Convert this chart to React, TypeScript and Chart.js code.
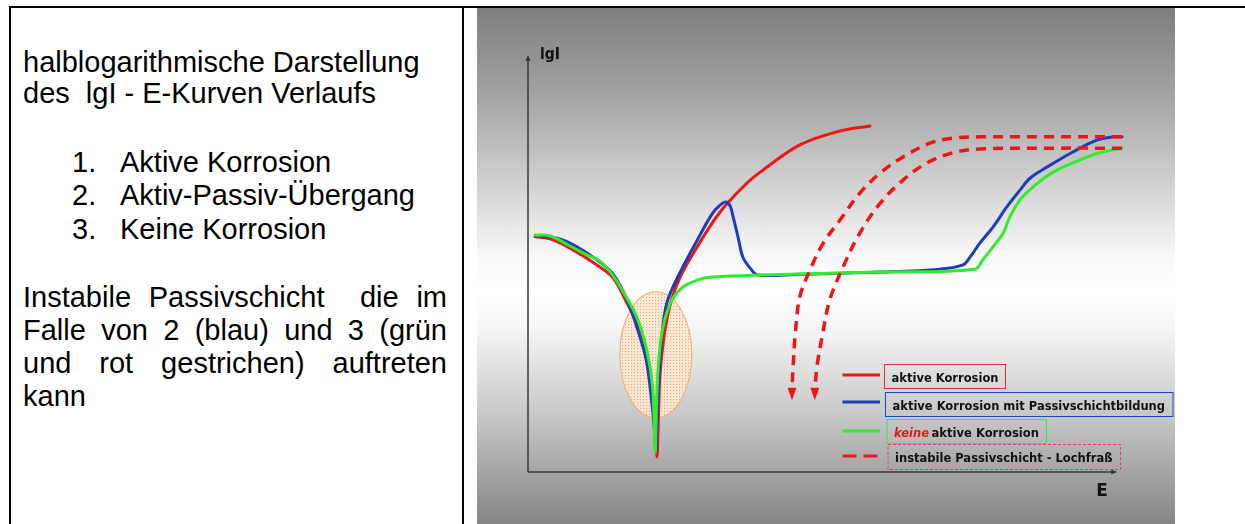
import React, { useEffect, useRef } from "react";
import { Chart, registerables } from "chart.js";

Chart.register(...registerables);

// ---- left text cell ----
const introLines = ["halblogarithmische Darstellung", "des  lgI - E-Kurven Verlaufs"];
const listItems = ["Aktive Korrosion", "Aktiv-Passiv-Übergang", "Keine Korrosion"];
const noteLines = [
  "Instabile Passivschicht  die im",
  "Falle von 2 (blau) und 3 (grün",
  "und rot gestrichen) auftreten",
  "kann",
];

// ---- chart data (E = potential, I = lg current) ----
const seriesLabels = [
  "aktive Korrosion",
  "aktive Korrosion mit Passivschichtbildung",
  "keine aktive Korrosion",
  "instabile Passivschicht - Lochfraß",
];
const axisLabels = ["E", "lgI"];

const aktivE = [1.2, 3.7, 7.0, 11.5, 14.2, 16.5, 18.7, 20.0, 20.8, 21.2, 21.5, 21.7, 22.0, 22.7, 23.7, 25.3, 28.2, 30.8, 32.8, 36.5, 38.7, 45.3, 52.0, 57.0];
const aktivI = [56.0, 55.5, 53.3, 49.3, 46.2, 40.2, 33.8, 26.7, 18.3, 11.2, 3.6, 11.2, 23.1, 32.6, 39.8, 46.2, 53.6, 59.5, 63.3, 68.8, 71.4, 77.9, 81.2, 82.4];

const passivE = [1.2, 3.7, 7.0, 11.5, 14.2, 16.5, 18.3, 19.7, 20.5, 21.0, 21.3, 21.5, 21.7, 22.0, 22.5, 23.3, 25.3, 28.2, 30.8, 32.2, 33.0, 33.7, 34.2, 35.0, 35.8, 37.0, 38.3, 45.3, 58.7, 68.7, 72.5, 73.7, 75.3, 77.5, 79.8, 82.0, 83.7, 86.5, 90.8, 94.8, 97.5, 99.0];
const passivI = [56.2, 56.0, 54.5, 50.5, 47.1, 41.0, 33.8, 26.7, 18.3, 11.2, 4.8, 11.2, 18.3, 26.7, 35.0, 41.0, 47.4, 55.2, 61.7, 63.8, 64.3, 63.3, 60.7, 56.0, 51.2, 48.6, 46.9, 47.1, 47.6, 48.3, 49.3, 51.2, 54.5, 58.3, 63.1, 67.1, 70.0, 72.6, 76.2, 79.0, 79.8, 79.8];

const keineE = [1.2, 3.7, 7.0, 9.8, 12.0, 14.2, 15.7, 18.2, 19.8, 20.7, 21.0, 21.2, 21.3, 21.7, 22.5, 24.0, 25.8, 28.2, 30.8, 38.7, 58.7, 74.5, 75.8, 77.5, 79.2, 80.3, 82.0, 84.2, 87.5, 92.0, 95.3, 99.0];
const keineI = [56.4, 56.2, 53.8, 51.7, 50.2, 46.7, 43.3, 36.7, 29.0, 21.2, 13.1, 4.8, 10.0, 25.0, 34.5, 41.0, 44.0, 45.7, 46.4, 46.9, 47.6, 48.3, 50.5, 53.6, 56.9, 60.7, 64.8, 67.9, 71.4, 74.3, 76.0, 77.1];

const loch1E = [99.0, 87.0, 75.3, 70.8, 67.0, 62.5, 58.7, 55.3, 52.0, 49.2, 47.0, 45.3, 44.5, 44.2, 44.0];
const loch1I = [79.8, 79.8, 79.8, 79.5, 78.3, 75.0, 71.2, 66.4, 60.0, 54.5, 48.1, 41.7, 32.1, 25.5, 19.8];
const loch2E = [99.0, 87.0, 75.3, 70.8, 66.5, 62.5, 58.7, 55.3, 52.5, 50.3, 49.0, 48.2, 47.8];
const loch2I = [77.1, 77.1, 76.9, 76.0, 73.6, 69.5, 64.0, 56.9, 48.8, 41.0, 32.1, 25.5, 19.8];
const lochArrowTipI = 17.1;

// highlighted region (corrosion potential), centre and half-axes in data units
const ellipseCenter = [21.3, 27.9];
const ellipseHalfAxes = [6.0, 15.0];
const axisEnd = [98.2, 99.3];

const RED = "#ee1515";
const BLUE = "#1c3db8";
const GREEN = "#30ec2c";

const pts = (xs: number[], ys: number[]) => xs.map((x, i) => ({ x, y: ys[i] }));

export default function App() {
  const ref = useRef<HTMLCanvasElement>(null);

  useEffect(() => {
    const canvas = ref.current!;
    const pc = document.createElement("canvas");
    pc.width = 3;
    pc.height = 3;
    const p = pc.getContext("2d")!;
    p.fillStyle = "rgba(250,230,208,0.92)";
    p.fillRect(0, 0, 3, 3);
    p.fillStyle = "rgba(222,150,90,0.75)";
    p.fillRect(1, 1, 1, 1);

    const legendRows = [
      { lineY: 367, boxTop: 356, boxH: 24, boxL: 407, boxR: 528, border: "#e03030", dash: [] as number[], textX: 414.5, widths: [107] },
      { lineY: 394, boxTop: 384, boxH: 24, boxL: 408, boxR: 695.5, border: "#2244c4", dash: [] as number[], textX: 415.5, widths: [272.5] },
      { lineY: 423, boxTop: 411, boxH: 24, boxL: 409.5, boxR: 569, border: "#44e044", dash: [] as number[], textX: 417, widths: [35, 107.5] },
      { lineY: 448, boxTop: 436, boxH: 25, boxL: 410.5, boxR: 643, border: "#e04060", dash: [3, 2], textX: 418, widths: [217.5] },
    ];
    const LFONT = "bold 12px 'DejaVu Sans', 'Liberation Sans', sans-serif";
    const LFONT_I = "italic bold 12px 'DejaVu Sans', 'Liberation Sans', sans-serif";

    const fitText = (ctx: CanvasRenderingContext2D, t: string, x: number, y: number, w: number, font: string, color: string) => {
      ctx.save();
      ctx.font = font;
      ctx.fillStyle = color;
      ctx.textBaseline = "alphabetic";
      const nat = ctx.measureText(t).width;
      ctx.translate(x, y);
      ctx.scale(w / nat, 1);
      ctx.fillText(t, 0, 0);
      ctx.restore();
    };

    const decor = {
      id: "decor",
      beforeDatasetsDraw(chart: any) {
        const { ctx, scales } = chart;
        const xs = scales.x, ys = scales.y;
        const cx = xs.getPixelForValue(ellipseCenter[0]);
        const cy = ys.getPixelForValue(ellipseCenter[1]);
        const rx = Math.abs(xs.getPixelForValue(ellipseCenter[0] + ellipseHalfAxes[0]) - cx);
        const ry = Math.abs(ys.getPixelForValue(ellipseCenter[1] + ellipseHalfAxes[1]) - cy);
        ctx.save();
        ctx.beginPath();
        ctx.ellipse(cx, cy, rx, ry, 0, 0, Math.PI * 2);
        ctx.fillStyle = ctx.createPattern(pc, "repeat");
        ctx.fill();
        ctx.strokeStyle = "#eeb47a";
        ctx.lineWidth = 1.2;
        ctx.stroke();

        // axes with arrows
        const x0 = xs.getPixelForValue(0), y0 = ys.getPixelForValue(0);
        const xe = xs.getPixelForValue(axisEnd[0]), ye = ys.getPixelForValue(axisEnd[1]);
        ctx.strokeStyle = "#383838";
        ctx.fillStyle = "#383838";
        ctx.lineWidth = 1.5;
        ctx.beginPath();
        ctx.moveTo(x0, y0);
        ctx.lineTo(x0, ye + 5);
        ctx.moveTo(x0, y0);
        ctx.lineTo(xe - 5, y0);
        ctx.stroke();
        ctx.beginPath();
        ctx.moveTo(x0, ye);
        ctx.lineTo(x0 - 2.6, ye + 6);
        ctx.lineTo(x0 + 2.6, ye + 6);
        ctx.closePath();
        ctx.fill();
        ctx.beginPath();
        ctx.moveTo(xe, y0);
        ctx.lineTo(xe - 6, y0 - 2.6);
        ctx.lineTo(xe - 6, y0 + 2.6);
        ctx.closePath();
        ctx.fill();
        ctx.restore();

        fitText(ctx, axisLabels[1], x0 + 12, ye + 4, 20, "bold 15px 'DejaVu Sans', sans-serif", "#111");
        fitText(ctx, axisLabels[0], xe - 21, y0 + 24, 11.5, "bold 18px 'DejaVu Sans', sans-serif", "#111");
      },
      afterDatasetsDraw(chart: any) {
        const { ctx, scales } = chart;
        const tip = scales.y.getPixelForValue(lochArrowTipI);
        [3, 4].forEach((i) => {
          const meta = chart.getDatasetMeta(i);
          const last = meta.data[meta.data.length - 1];
          ctx.save();
          ctx.fillStyle = RED;
          ctx.beginPath();
          ctx.moveTo(last.x - 4.5, last.y - 1);
          ctx.lineTo(last.x + 4.5, last.y - 1);
          ctx.lineTo(last.x, tip);
          ctx.closePath();
          ctx.fill();
          ctx.restore();
        });
      },
      afterDraw(chart: any) {
        const { ctx } = chart;
        const colors = [RED, BLUE, GREEN, RED];
        legendRows.forEach((r, i) => {
          ctx.save();
          ctx.strokeStyle = colors[i];
          ctx.lineWidth = 3;
          ctx.setLineDash(i === 3 ? [14, 7] : []);
          ctx.beginPath();
          ctx.moveTo(365.5, r.lineY);
          ctx.lineTo(403, r.lineY);
          ctx.stroke();
          ctx.setLineDash(r.dash);
          ctx.strokeStyle = r.border;
          ctx.lineWidth = 1;
          ctx.strokeRect(r.boxL + 0.5, r.boxTop + 0.5, r.boxR - r.boxL, r.boxH);
          ctx.restore();
          const base = r.boxTop + 17.5;
          const label = seriesLabels[i];
          if (label.startsWith("keine ")) {
            fitText(ctx, "keine", r.textX, base, r.widths[0], LFONT_I, RED);
            fitText(ctx, label.slice(6), r.textX + r.widths[0] + 2.5, base, r.widths[1], LFONT, "#111");
          } else {
            fitText(ctx, label, r.textX, base, r.widths[0], LFONT, "#111");
          }
        });
      },
    };

    const common = { pointRadius: 0, fill: false, tension: 0.35, borderCapStyle: "round", borderJoinStyle: "round" };
    const chart = new Chart(canvas, {
      type: "line",
      data: {
        datasets: [
          { ...common, label: seriesLabels[0], data: pts(aktivE, aktivI), borderColor: RED, borderWidth: 3, order: 3 },
          { ...common, label: seriesLabels[1], data: pts(passivE, passivI), borderColor: BLUE, borderWidth: 3, order: 2 },
          { ...common, label: seriesLabels[2], data: pts(keineE, keineI), borderColor: GREEN, borderWidth: 3, order: 1 },
          { ...common, label: seriesLabels[3], data: pts(loch1E, loch1I), borderColor: RED, borderWidth: 3.5, borderDash: [10, 7], borderCapStyle: "butt", order: 0 },
          { ...common, label: seriesLabels[3], data: pts(loch2E, loch2I), borderColor: RED, borderWidth: 3.5, borderDash: [10, 7], borderCapStyle: "butt", order: 0 },
        ],
      } as any,
      options: {
        animation: false,
        responsive: false,
        devicePixelRatio: 1,
        layout: { padding: { left: 51, right: 47, top: 44, bottom: 52 } },
        scales: {
          x: { type: "linear", min: 0, max: 100, display: false },
          y: { type: "linear", min: 0, max: 100, display: false },
        },
        plugins: { legend: { display: false }, tooltip: { enabled: false } },
      } as any,
      plugins: [decor as any],
    });
    return () => chart.destroy();
  }, []);

  const textBase: React.CSSProperties = {
    position: "absolute",
    fontSize: 29,
    lineHeight: "33px",
    color: "#000",
    whiteSpace: "pre",
  };

  return (
    <div
      style={{
        position: "absolute",
        left: 0,
        top: 0,
        width: 1245,
        height: 524,
        overflow: "hidden",
        background: "#fff",
        fontFamily: "'Liberation Sans', Arial, sans-serif",
      }}
    >
      <div style={{ position: "absolute", left: 9, top: 6, width: 1236, height: 2, background: "#000" }} />
      <div style={{ position: "absolute", left: 9, top: 6, width: 2, height: 518, background: "#000" }} />
      <div style={{ position: "absolute", left: 462, top: 6, width: 2, height: 518, background: "#000" }} />

      {introLines.map((t, i) => (
        <div key={"i" + i} style={{ ...textBase, left: 23, top: 45.5 + i * 31 }}>
          {t}
        </div>
      ))}
      {listItems.map((t, i) => (
        <React.Fragment key={"l" + i}>
          <div style={{ ...textBase, left: 72, top: 145.5 + i * 33.5 }}>{i + 1 + "."}</div>
          <div style={{ ...textBase, left: 120, top: 145.5 + i * 33.5 }}>{t}</div>
        </React.Fragment>
      ))}
      {noteLines.map((t, i) => {
        const last = i === noteLines.length - 1;
        return (
          <div
            key={"n" + i}
            style={{
              ...textBase,
              whiteSpace: "pre-wrap",
              left: 23,
              top: 280.5 + i * 33.3,
              width: 424,
              textAlign: last ? "left" : "justify",
              textAlignLast: last ? "left" : "justify",
            }}
          >
            {t}
          </div>
        );
      })}

      <canvas
        ref={ref}
        width={698}
        height={516}
        style={{
          position: "absolute",
          left: 477,
          top: 8,
          width: 698,
          height: 516,
          background:
            "linear-gradient(180deg, #7e7e7e 0%, #a6a6a6 18%, #dcdcdc 38%, #f8f8f8 48%, #ffffff 55%, #f6f6f6 62%, #c4c4c4 80%, #858585 100%)",
        }}
      />
    </div>
  );
}
